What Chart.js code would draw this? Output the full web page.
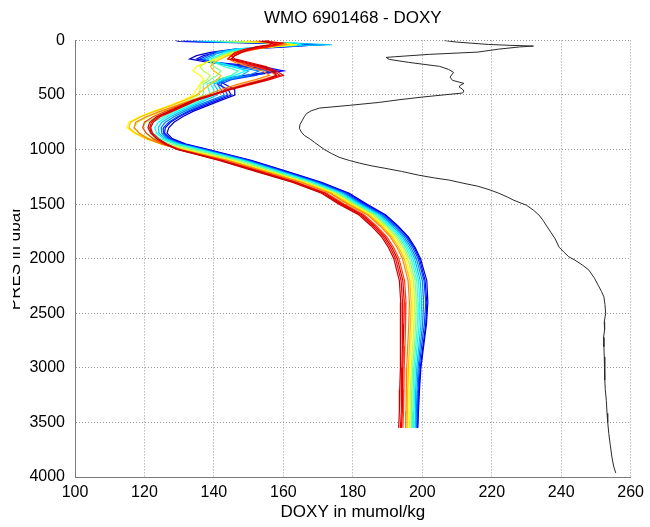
<!DOCTYPE html>
<html><head><meta charset="utf-8">
<script src="https://cdn.jsdelivr.net/npm/chart.js@4.4.0/dist/chart.umd.min.js"></script>
<style>html,body{margin:0;padding:0;background:#fff;}canvas{display:block;}</style>
</head><body>
<canvas id="c" width="650" height="527"></canvas>
<script>
// ---- data ----
const PRES_LEVELS = [0,10,25,40,60,80,110,140,170,200,240,280,320,360,400,450,500,550,600,650,700,750,800,850,900,950,1000,1100,1200,1300,1400,1500,1600,1700,1800,1900,2000,2200,2400,2600,2800,3000,3200,3400,3550];

const doxy_c01 = [129,130,152,172,158,146,139,135,133,138,150,158,149,141,143,146,146,142,138,134,131,128.5,127,126.5,128,132,138.5,151,161,171,179,184,189.5,193,196,198,199.5,201.3,201.6,201.2,200.4,199.6,199.2,198.9,198.7];
const doxy_c02 = [131,132,158,170,161,149,141,137,135,140,154,160,151,143,141,144,145,141,137,133,130,127.5,126,125.8,127.5,131.5,138,150.5,160.5,170.5,178.5,183.5,189.3,192.8,195.7,197.7,199.2,200.8,201.3,201,200.2,199.4,199,198.8,198.6];
const doxy_c03 = [132,134,160,168,159,147,140,138,136,141,148,156,152,145,142,143,144,140,136,132.5,129.5,127,125.5,125.5,127,131,137.5,150,160,170,178,183,188.8,192.3,195.3,197.3,198.8,200.5,201,200.6,199.8,199.1,198.8,198.6,198.4];
const doxy_c04 = [134,136,162,166,157,148,142,139,137,139,146,153,150,144,141,142,143,139,135,131.5,128.5,126,124.8,125,126.5,130.5,137,149.5,159.5,169.5,177.5,182.5,188.3,191.8,194.8,196.8,198.3,200,200.4,200.1,199.4,198.8,198.5,198.3,198.2];
const doxy_c05 = [136,138,163,174,155,146,141,140,138,140,145,150,148,143,140,141,141,137.5,134,130.5,127.5,125,124,124.2,126,130,136.5,149,159,169,177,182,187.8,191.3,194.3,196.3,197.8,199.4,199.8,199.6,199,198.4,198.1,198,197.9];
const doxy_c06 = [138,140,164,165,154,147,143,141,139,141,146,149,146,142,139,140,140,136.5,133,129.5,126.5,124,123,123.5,125.5,129.5,136,148.5,158.5,168.5,176.5,181.5,187.3,190.8,193.8,195.8,197.3,198.9,199.3,199.1,198.5,198,197.8,197.6,197.5];
const doxy_c07 = [140,141,162,163,156,149,144,142,140,140,143,147,145,141,138,138.5,139,135.5,132,128.5,125.5,122.5,121.5,122.5,124.5,129,135.5,148,158,168,176,181,186.8,190.3,193.3,195.3,196.8,198.4,198.8,198.6,198.1,197.6,197.4,197.3,197.2];
const doxy_c08 = [142,143,160,162,155,150,145,142,140,139,140,142,141,139,137,137,137,134,130.5,127,123.5,120.5,119.5,120.5,123,127.5,134,147,157,167,175.5,180.5,186.3,189.8,192.8,194.8,196.3,197.9,198.3,198.1,197.7,197.2,197,196.9,196.8];
const doxy_c09 = [145,146,159,163,156,150,146,143,140,138,136,137,139,138,136,136,135.5,132.5,129,125,121,118,117,118.5,121.5,126,132.5,146,156,166.5,175,180,185.8,189.3,192.3,194.3,195.8,197.4,197.8,197.6,197.2,196.8,196.6,196.5,196.4];
const doxy_c10 = [148,149,158,164,157,151,146,143,141,138,135,134,136,137,136,135,134,131,127,122.5,118.5,115.5,115,117,120.5,125,131.5,145,155.5,166,174.5,179.5,185.3,188.8,191.8,193.8,195.3,196.9,197.3,197.1,196.7,196.4,196.2,196.1,196];
const doxy_c11 = [150,151,157,161,156,151,147,144,142,140,139,140,142,141,139,137,135,131.5,127.5,123,119,116,115.5,117.5,120.5,125,131,144.5,155,165.5,174,179,184.8,188.3,191.3,193.3,194.8,196.4,196.8,196.6,196.3,196,195.8,195.7,195.6];
const doxy_c12 = [152,153,156,160,155,150,147,145,144,146,150,154,156,152,147,142,138,133.5,129,124.5,120.5,117.5,117,118.5,121,125,130.5,144,154.5,165,173.5,178.5,184.3,187.8,190.8,192.8,194.3,195.9,196.3,196.1,195.8,195.5,195.4,195.3,195.2];
const doxy_c13 = [153,154,157,159,156,152,148,146,145,147,152,156,158,154,149,143.5,139,134,130,126,122.5,120,119.5,120.5,122.5,125.5,130,143,153.5,164,172.5,177.5,183.3,186.8,189.8,191.8,193.3,194.9,195.3,195.2,195,194.8,194.7,194.6,194.4];
const doxy_c14 = [154,155,158,158,155,151,147,145,144,148,153,157,159,155,150,144,139.5,134.5,131,127.5,124,122,121.5,122,123.5,126,129.5,142,152.5,163,171.5,176.5,182.3,185.8,188.8,190.8,192.3,193.9,194.3,194.3,194.2,194.1,194,193.9,193.7];
const doxy_c15 = [155,156,160,157,153,149,146,145,146,150,155,158,160,156,151,145,140,135,131.5,128,124.5,122.5,121.8,122.3,124,126.5,130,142.5,153,163.5,172,177,182.8,186.3,189.3,191.3,192.8,194.4,194.8,194.7,194.5,194.4,194.3,194.2,194];
const doxy_c16 = [156,154,157,156,152,150,148,146,145,149,154,157,158,155,150,144.5,139,134,130.5,127,123.5,121.5,121,121.8,123.5,126,129.5,141.5,152,162.5,171,176,181.8,185.3,188.3,190.3,191.8,193.4,193.8,193.8,193.7,193.6,193.5,193.4,193.2];

const REF_PRES = [0,8,15,25,37,45,52,60,80,107,128,150,156,174,201,238,265,293,315,336,366,394,410,427,445,464,482,500,519,545,568,595,620,645,670,700,730,770,805,840,870,900,935,970,1000,1035,1070,1100,1125,1150,1170,1200,1235,1260,1280,1310,1336,1370,1400,1435,1465,1510,1555,1600,1650,1700,1757,1820,1895,1940,1983,2014,2060,2105,2180,2258,2300,2350,2420,2500,2580,2650,2720,2807,2900,3000,3112,3200,3300,3417,3500,3600,3700,3817,3900,3963];
const REF_DOXY = [206.3,208,209.8,214,219,225,232,228,222,216,202,192,189.6,190.5,196,205,207.5,209,208.5,208,208.7,212,211,210.6,211.5,212,211.6,206,200,193,187.6,179,170.4,168,166.7,166,165.5,164.8,164.6,165.2,166,167.5,169,170.5,171.8,173.8,176,179,182,185.5,189,194,199,203.5,207.8,212,216,219.5,222,224.5,226.4,230,232,233.6,234.8,235.8,237,238.3,239.4,240.8,242.2,244,246.2,248,249.6,250.9,251.6,252.3,252.6,252.8,252.4,252.5,252.2,252.3,252.4,252.6,252.5,252.7,253,253.2,253.4,253.7,254.1,254.6,255.1,255.7];

const X_TICKS = [100,120,140,160,180,200,220,240,260];
const Y_TICKS = [0,500,1000,1500,2000,2500,3000,3500,4000];

// ---- styling ----
const PROFILES = [doxy_c01,doxy_c02,doxy_c03,doxy_c04,doxy_c05,doxy_c06,doxy_c07,doxy_c08,doxy_c09,doxy_c10,doxy_c11,doxy_c12,doxy_c13,doxy_c14,doxy_c15,doxy_c16];
const COLORS = ['#0000bf','#0000ff','#0040ff','#0080ff','#00bfff','#00ffff','#40ffbf','#80ff80','#bfff40','#ffff00','#ffbf00','#ff8000','#ff4000','#ff0000','#e00000','#c80000'];

Chart.defaults.font.family = "'Liberation Sans', Arial, Helvetica, sans-serif";
Chart.defaults.color = '#000';

const datasets = PROFILES.map((vals, i) => ({
  data: vals.map((v, k) => ({x: v, y: PRES_LEVELS[k]})),
  borderColor: COLORS[i],
  borderWidth: 1.2,
  pointRadius: 0,
  showLine: true,
  fill: false,
  order: PROFILES.length - i
}));
datasets.push({
  data: REF_DOXY.map((v, k) => ({x: v, y: REF_PRES[k]})),
  borderColor: '#2a2a2a',
  borderWidth: 1,
  pointRadius: 0,
  showLine: true,
  fill: false,
  order: PROFILES.length + 1
});

const coverPlugin = {
  id: 'cover',
  afterDraw(chart) {
    const ctx = chart.ctx;
    ctx.save();
    ctx.fillStyle = '#fff';
    ctx.fillRect(0, 0, 13, chart.height);
    ctx.restore();
  }
};

new Chart(document.getElementById('c'), {
  type: 'scatter',
  data: {datasets},
  plugins: [coverPlugin],
  options: {
    responsive: false,
    animation: false,
    layout: {padding: {left: 0, right: 18, top: 0, bottom: 0}},
    plugins: {
      legend: {display: false},
      tooltip: {enabled: false},
      title: {
        display: true,
        text: 'WMO 6901468 - DOXY',
        color: '#000',
        fullSize: false,
        font: {size: 17, weight: 'normal'},
        padding: {top: 8, bottom: 12}
      }
    },
    scales: {
      x: {
        type: 'linear', min: 100, max: 260,
        afterBuildTicks: s => { s.ticks = X_TICKS.map(v => ({value: v})); },
        afterFit: s => { s.height = 50; },
        grid: {color: '#9a9a9a', lineWidth: 1, drawTicks: false},
        border: {display: true, color: '#7a7a7a', width: 1, dash: [1, 2]},
        ticks: {color: '#000', font: {size: 16}, padding: 6, maxRotation: 0, callback: v => String(v)},
        title: {display: true, text: 'DOXY in mumol/kg', color: '#000', font: {size: 17}, padding: {top: 0, bottom: 4}}
      },
      y: {
        type: 'linear', min: 0, max: 4000, reverse: true,
        afterBuildTicks: s => { s.ticks = Y_TICKS.map(v => ({value: v})); },
        afterFit: s => { s.width = 75; },
        grid: {color: '#9a9a9a', lineWidth: 1, drawTicks: false},
        border: {display: true, color: '#7a7a7a', width: 1, dash: [1, 2]},
        ticks: {color: '#000', font: {size: 16}, padding: 10, callback: v => String(v)},
        title: {display: true, text: 'PRES in dbar', color: '#000', font: {size: 17}, padding: {top: 5, bottom: 0}}
      }
    }
  }
});
</script>
</body></html>
